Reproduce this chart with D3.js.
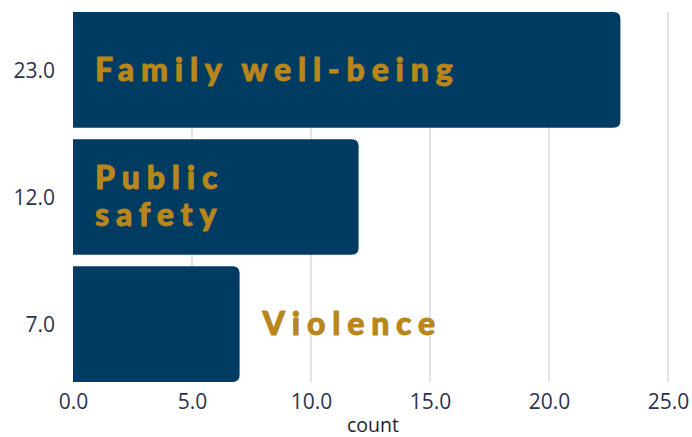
<!DOCTYPE html>
<html>
<head>
<meta charset="utf-8">
<script src="https://cdn.jsdelivr.net/npm/d3@7"></script>
<style>
  body { margin: 0; background: #fff; }
  svg { display: block; }
</style>
</head>
<body>
<svg id="chart" width="692" height="437"></svg>
<script>
// Topic counts, one bar per topic
const topics = ["Family well-being", "Public safety", "Violence"];
const counts = [23, 12, 7];
const tickValues = [0, 5, 10, 15, 20, 25];

const W = 692, H = 437;
const margin = { top: 12, right: 24, bottom: 55, left: 73 };

const svg = d3.select("#chart");
const data = topics.map((t, i) => ({ topic: t, count: counts[i] }));

const x = d3.scaleLinear().domain([0, 25]).range([margin.left, W - margin.right]);
const y = d3.scaleBand().domain(topics).range([margin.top, H - margin.bottom])
  .paddingInner(0.09).paddingOuter(0);

const inkDark = "#2b3350";
const barColor = "#003c62";
const gold = "#b8861b";
const tickFont = "'Open Sans', sans-serif";

// vertical grid
svg.append("g").selectAll("line").data(tickValues.slice(1)).join("line")
  .attr("x1", d => x(d)).attr("x2", d => x(d))
  .attr("y1", margin.top).attr("y2", H - margin.bottom)
  .attr("stroke", "#cfd0d8").attr("stroke-width", 1.2);

// bars with rounded right ends
const r = 7;
function barPath(d) {
  const x0 = x(0), x1 = x(d.count), y0 = y(d.topic), y1 = y0 + y.bandwidth();
  return `M${x0},${y0} H${x1 - r} Q${x1},${y0} ${x1},${y0 + r} V${y1 - r} Q${x1},${y1} ${x1 - r},${y1} H${x0} Z`;
}
svg.append("g").selectAll("path").data(data).join("path")
  .attr("d", barPath).attr("fill", barColor);

// y axis: value labels per bar
const yAxis = d3.axisLeft(y).tickSize(0).tickPadding(18)
  .tickFormat(t => d3.format(".1f")(counts[topics.indexOf(t)]));
const gy = svg.append("g").attr("transform", `translate(${margin.left},0)`).call(yAxis);
gy.select(".domain").remove();
gy.selectAll("text").attr("fill", inkDark).attr("font-size", 21)
  .attr("font-family", tickFont).attr("dy", "0.38em");

// x axis
const xAxis = d3.axisBottom(x).tickValues(tickValues).tickSize(0).tickPadding(12)
  .tickFormat(d3.format(".1f"));
const gx = svg.append("g").attr("transform", `translate(0,${H - margin.bottom})`).call(xAxis);
gx.select(".domain").remove();
gx.selectAll("text").attr("fill", inkDark).attr("font-size", 21).attr("font-family", tickFont);

svg.append("text").attr("x", x(12.6)).attr("y", 432).attr("text-anchor", "middle")
  .attr("fill", "#1e2230").attr("font-size", 19.5).attr("font-family", tickFont).text("count");

// topic labels: inside the bar when it fits, otherwise just past its end
const labelFont = "Lato, 'Open Sans', sans-serif";
const lines = { "Family well-being": ["Family well-being"], "Public safety": ["Public", "safety"], "Violence": ["Violence"] };
const lineH = 37;
data.forEach(d => {
  const inside = d.count >= 10;
  const lx = inside ? x(0) + 22 : x(d.count) + 23;
  const ls = lines[d.topic];
  const cy = y(d.topic) + y.bandwidth() / 2;
  const t = svg.append("text")
    .attr("x", lx)
    .attr("y", cy - (ls.length - 1) * lineH / 2)
    .attr("fill", gold)
    .attr("stroke", gold)
    .attr("stroke-width", 0.9)
    .attr("stroke-linejoin", "round")
    .attr("font-family", labelFont)
    .attr("font-weight", 900)
    .attr("font-size", 32)
    .attr("letter-spacing", 6.8);
  ls.forEach((s, i) => {
    t.append("tspan").attr("x", lx).attr("dy", i === 0 ? "0.34em" : lineH).text(s);
  });
});
</script>
</body>
</html>
